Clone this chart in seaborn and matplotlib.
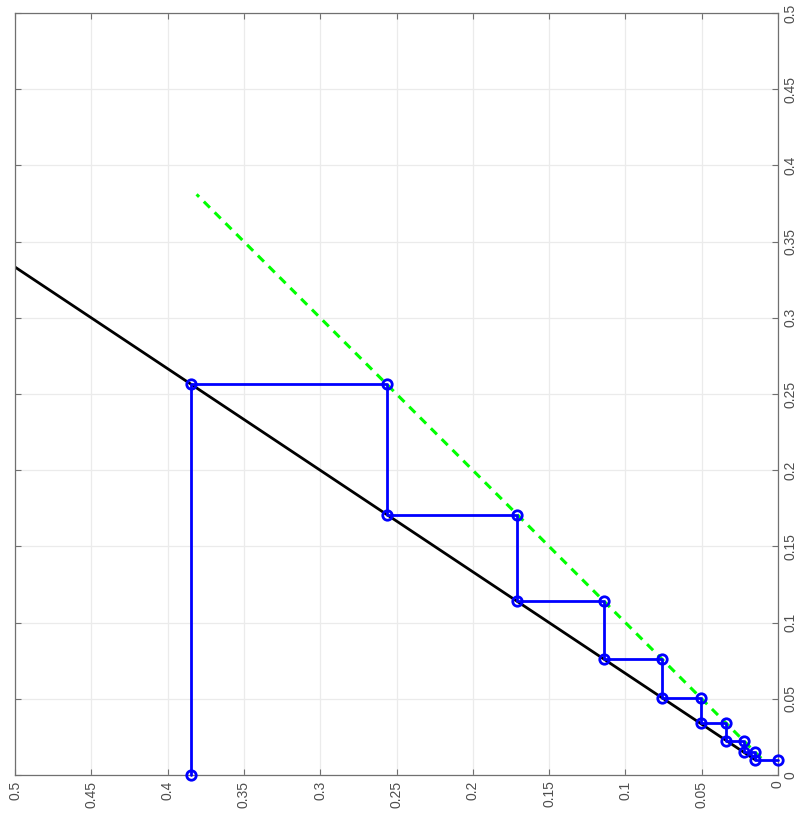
import matplotlib
matplotlib.use("Agg")
import matplotlib.pyplot as plt
import seaborn as sns
import pandas as pd

# Data
path_x = [0.3846, 0.3846, 0.2564, 0.2564, 0.1709, 0.1709, 0.1140, 0.1140, 0.0760, 0.0760,
          0.0506, 0.0506, 0.0338, 0.0338, 0.0225, 0.0225, 0.0150, 0.0150, 0.0]
path_y = [0.0, 0.2564, 0.2564, 0.1709, 0.1709, 0.1140, 0.1140, 0.0760, 0.0760, 0.0506,
          0.0506, 0.0338, 0.0338, 0.0225, 0.0225, 0.0150, 0.0150, 0.0100, 0.0100]
black_x = [0.015, 0.5]
black_y = [0.010, 0.3333]
green_x = [0.011, 0.381]
green_y = [0.011, 0.381]
ticks = [0.0, 0.05, 0.1, 0.15, 0.2, 0.25, 0.3, 0.35, 0.4, 0.45, 0.5]
tick_labels = ["0", "0.05", "0.1", "0.15", "0.2", "0.25", "0.3", "0.35", "0.4", "0.45", "0.5"]

sns.set_style("white")
plt.rcParams["font.family"] = ["Liberation Sans", "DejaVu Sans"]

fig = plt.figure(figsize=(7.97, 8.18), dpi=100)
ax = fig.add_axes([15 / 797, 43 / 818, 763 / 797, 762 / 818])

frame_col = "#707070"
grid_col = "#ebebeb"

sns.lineplot(x=black_x, y=black_y, ax=ax, color="black", linewidth=2.0,
             sort=False, estimator=None)
sns.lineplot(x=path_x, y=path_y, ax=ax, color="#0000ff", linewidth=2.0,
             sort=False, estimator=None, marker="o", markersize=6.8,
             markerfacecolor="none", markeredgecolor="#0000ff", markeredgewidth=2.0,
             clip_on=False, zorder=4)
sns.lineplot(x=green_x, y=green_y, ax=ax, color="#00ff00", linewidth=2.2,
             sort=False, estimator=None, linestyle=(0, (2.8, 2.2)), zorder=3)

ax.set_xlim(0.5, 0.0)
ax.set_ylim(0.0, 0.5)
ax.set_xticks(ticks)
ax.set_yticks(ticks)
ax.set_xticklabels(tick_labels, rotation=90, va="top", ha="center")
ax.set_yticklabels(tick_labels, rotation=90, va="center", ha="left")
ax.grid(True, color=grid_col, linewidth=0.9)
ax.set_axisbelow(True)
for s in ax.spines.values():
    s.set_color(frame_col)
    s.set_linewidth(0.9)
ax.tick_params(direction="in", length=4, width=0.8, color=frame_col,
               top=True, bottom=True, left=True, right=True,
               labelleft=False, labelright=True, labelbottom=True, labeltop=False,
               labelsize=10, labelcolor="#4d4d4d", pad=4)
ax.set_xlabel("")
ax.set_ylabel("")

fig.savefig("out.png", dpi=100)
